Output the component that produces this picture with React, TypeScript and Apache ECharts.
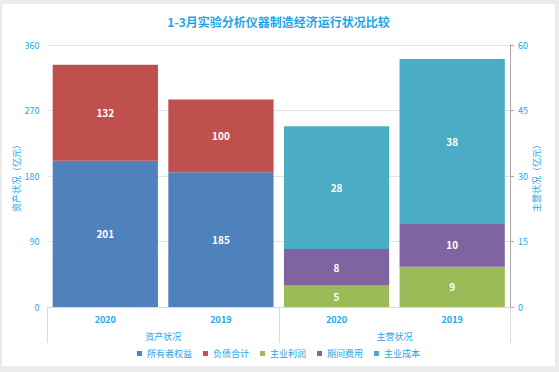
import React, { useEffect, useRef } from "react";
import * as echarts from "echarts";

const categories = ["2020", "2019", "2020", "2019"];
const groups = ["资产状况", "主营状况"];
const equity = [201, 185, "-", "-"];
const debt = [132, 100, "-", "-"];
const profit = ["-", "-", 4.9, 9.2];
const expense = ["-", "-", 8.4, 10.0];
const cost = ["-", "-", 28.1, 37.6];
const leftTicks = { min: 0, max: 360, interval: 90 };
const rightTicks = { min: 0, max: 60, interval: 15 };

const BLUE_TEXT = "#1ea5e8";
const FONT = "'Noto Sans CJK SC', 'Noto Sans', sans-serif";

export default function App() {
  const ref = useRef<HTMLDivElement>(null);
  useEffect(() => {
    if (!ref.current) return;
    const chart = echarts.init(ref.current, undefined, { renderer: "svg" });
    const label = {
      show: true,
      position: "inside",
      color: "#ffffff",
      fontSize: 10,
      fontWeight: "bold",
      fontFamily: FONT,
      formatter: (p: any) => String(Math.round(Number(p.value))),
    };
    const mk = (name: string, data: any[], color: string, yAxisIndex: number) => ({
      name,
      type: "bar",
      stack: "total",
      yAxisIndex,
      data,
      barCategoryGap: "9%",
      itemStyle: { color },
      label,
    });
    chart.setOption({
      animation: false,
      backgroundColor: "#ffffff",
      textStyle: { fontFamily: FONT },
      title: {
        text: "1-3月实验分析仪器制造经济运行状况比较",
        left: "center",
        top: 6,
        textStyle: { color: BLUE_TEXT, fontSize: 12, fontWeight: "bold", fontFamily: FONT },
      },
      legend: {
        bottom: 3,
        left: "center",
        itemWidth: 5,
        itemHeight: 5,
        itemGap: 11,
        icon: "rect",
        textStyle: { color: BLUE_TEXT, fontSize: 9, fontFamily: FONT },
        data: ["所有者权益", "负债合计", "主业利润", "期间费用", "主业成本"],
      },
      grid: { left: 45.5, right: 45, top: 41, bottom: 59, outerBoundsMode: "none", containLabel: false },
      xAxis: [
        {
          type: "category",
          data: categories,
          position: "bottom",
          axisLine: { show: true, lineStyle: { color: "#d9d9d9" } },
          axisTick: { show: false },
          axisLabel: { color: BLUE_TEXT, fontSize: 9, fontWeight: "bold", margin: 8, fontFamily: FONT },
        },
        {
          type: "category",
          data: groups,
          position: "bottom",
          axisLine: { show: false },
          axisTick: { show: true, length: 36, lineStyle: { color: "#d9d9d9" } },
          axisLabel: { color: BLUE_TEXT, fontSize: 9, margin: 25, fontFamily: FONT },
        },
      ],
      yAxis: [
        {
          type: "value",
          ...leftTicks,
          name: "资产状况（亿元）",
          nameLocation: "middle",
          nameGap: 27,
          nameRotate: 90,
          nameMoveOverlap: false,
          nameTextStyle: { color: BLUE_TEXT, fontSize: 9, fontFamily: FONT },
          axisLine: { show: false },
          axisTick: { show: false },
          axisLabel: { color: BLUE_TEXT, fontSize: 9, margin: 8, fontFamily: FONT },
          splitLine: { show: true, lineStyle: { color: "#e3e3e3" } },
        },
        {
          type: "value",
          ...rightTicks,
          position: "right",
          name: "主营状况（亿元）",
          nameLocation: "middle",
          nameGap: 22,
          nameRotate: 90,
          nameMoveOverlap: false,
          nameTextStyle: { color: BLUE_TEXT, fontSize: 9, fontFamily: FONT },
          axisLine: { show: true, lineStyle: { color: "#a6a6a6" } },
          axisTick: { show: true, length: 4, lineStyle: { color: "#a6a6a6" } },
          axisLabel: { color: BLUE_TEXT, fontSize: 9, margin: 8, fontFamily: FONT },
          splitLine: { show: false },
        },
      ],
      series: [
        mk("所有者权益", equity, "#4f81bd", 0),
        mk("负债合计", debt, "#c0504d", 0),
        mk("主业利润", profit, "#9bbb59", 1),
        mk("期间费用", expense, "#8064a2", 1),
        mk("主业成本", cost, "#4bacc6", 1),
      ],
    });
    return () => chart.dispose();
  }, []);
  return (
    <div style={{ position: "fixed", left: 0, top: 0, width: 559, height: 372, background: "#ebebeb" }}>
      <div ref={ref} style={{ position: "absolute", left: 2, top: 4, width: 553, height: 362 }} />
    </div>
  );
}
